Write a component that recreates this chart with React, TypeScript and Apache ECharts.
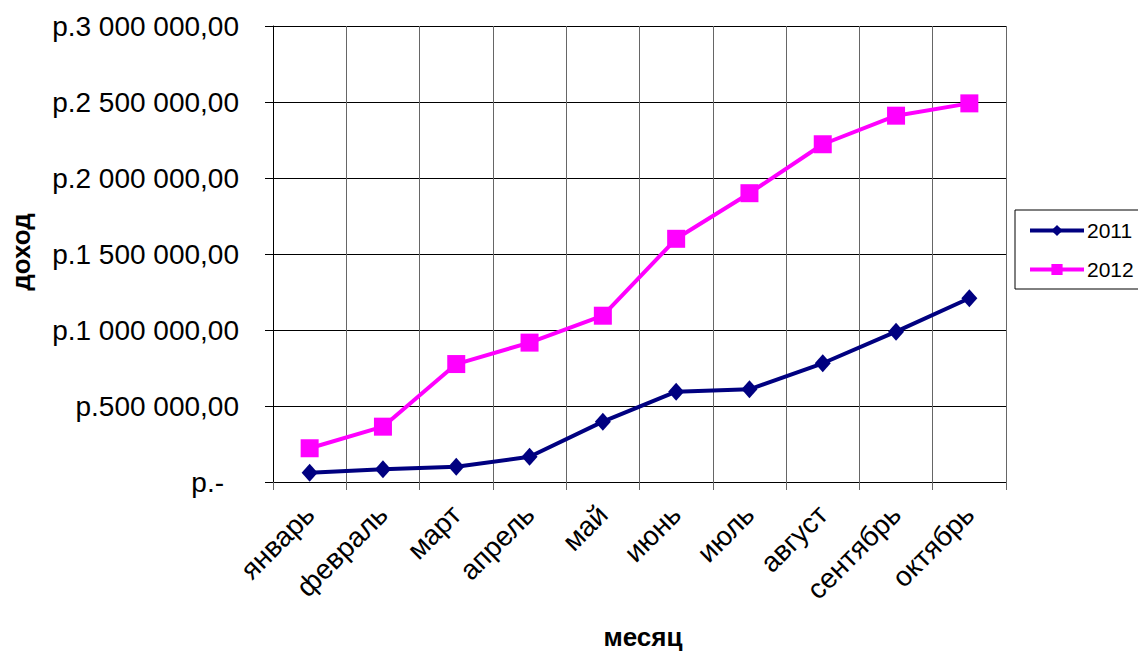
import React, { useEffect, useRef } from "react";
import * as echarts from "echarts";

// Monthly income, roubles
const months = [
  "январь",
  "февраль",
  "март",
  "апрель",
  "май",
  "июнь",
  "июль",
  "август",
  "сентябрь",
  "октябрь",
];
const income2011 = [61000, 84000, 101000, 166000, 397000, 594000, 610000, 781000, 989000, 1209000];
const income2012 = [222000, 364000, 776000, 917000, 1094000, 1600000, 1900000, 2222000, 2410000, 2491000];
const seriesNames = ["2011", "2012"];

const FONT = "'Liberation Sans', Arial, sans-serif";

// Accounting-style rouble label: "р.2 500 000,00", zero shown as "р.-"
function formatRub(v: number): string {
  if (v === 0) return "{z|р.-}";
  const s = Math.round(v)
    .toString()
    .replace(/\B(?=(\d{3})+(?!\d))/g, " ");
  return "р." + s + ",00";
}

export default function App() {
  const ref = useRef<HTMLDivElement>(null);

  useEffect(() => {
    if (!ref.current) return;
    const chart = echarts.init(ref.current, undefined, { renderer: "svg" });
    chart.setOption({
      animation: false,
      backgroundColor: "#ffffff",
      textStyle: { fontFamily: FONT },
      grid: { left: 273, top: 26, right: 132, bottom: 170, containLabel: false },
      legend: {
        orient: "vertical",
        left: 1015,
        top: 210,
        width: 140,
        padding: [10, 20, 9, 13],
        itemGap: 18,
        itemWidth: 54,
        itemHeight: 14,
        borderColor: "#000",
        borderWidth: 1,
        lineStyle: { width: 4 },
        textStyle: { fontSize: 21, color: "#000", fontFamily: FONT, padding: [0, 0, 0, -2] },
        data: seriesNames.map((name) => ({ name, lineStyle: { width: 4 } })),
      },
      xAxis: {
        type: "category",
        data: months,
        boundaryGap: true,
        axisLine: { show: true, lineStyle: { color: "#000", width: 1 } },
        axisTick: { show: true, length: 8, lineStyle: { color: "#666" } },
        splitLine: { show: true, lineStyle: { color: "#666", width: 1 } },
        axisLabel: {
          rotate: 45,
          margin: 28,
          fontSize: 28,
          color: "#000",
          fontFamily: FONT,
        },
      },
      yAxis: {
        type: "value",
        min: 0,
        max: 3000000,
        interval: 500000,
        axisLine: { show: true, lineStyle: { color: "#000", width: 1 } },
        axisTick: { show: true, length: 8, lineStyle: { color: "#000" } },
        splitLine: { show: true, lineStyle: { color: "#000", width: 1 } },
        axisLabel: {
          margin: 34,
          fontSize: 28,
          color: "#000",
          fontFamily: FONT,
          formatter: formatRub,
          rich: {
            z: { fontSize: 28, color: "#000", fontFamily: FONT, padding: [0, 15, 0, 0] },
          },
        },
      },
      graphic: [
        {
          type: "text",
          x: 21,
          y: 252,
          rotation: Math.PI / 2,
          style: {
            text: "доход",
            fontSize: 26,
            fontWeight: "bold",
            fontFamily: FONT,
            fill: "#000",
            align: "center",
            verticalAlign: "middle",
          },
        },
        {
          type: "text",
          x: 643,
          y: 624,
          style: {
            text: "месяц",
            fontSize: 26,
            fontWeight: "bold",
            fontFamily: FONT,
            fill: "#000",
            align: "center",
            verticalAlign: "top",
          },
        },
      ],
      series: [
        {
          name: seriesNames[0],
          type: "line",
          data: income2011,
          symbol: "diamond",
          symbolSize: [16, 18],
          lineStyle: { color: "#000080", width: 4 },
          itemStyle: { color: "#000080" },
        },
        {
          name: seriesNames[1],
          type: "line",
          data: income2012,
          symbol: "rect",
          symbolSize: 18,
          lineStyle: { color: "#FF00FF", width: 4 },
          itemStyle: { color: "#FF00FF" },
        },
      ],
    });
    return () => chart.dispose();
  }, []);

  return <div ref={ref} style={{ width: 1138, height: 652, position: "absolute", left: 0, top: 0 }} />;
}
